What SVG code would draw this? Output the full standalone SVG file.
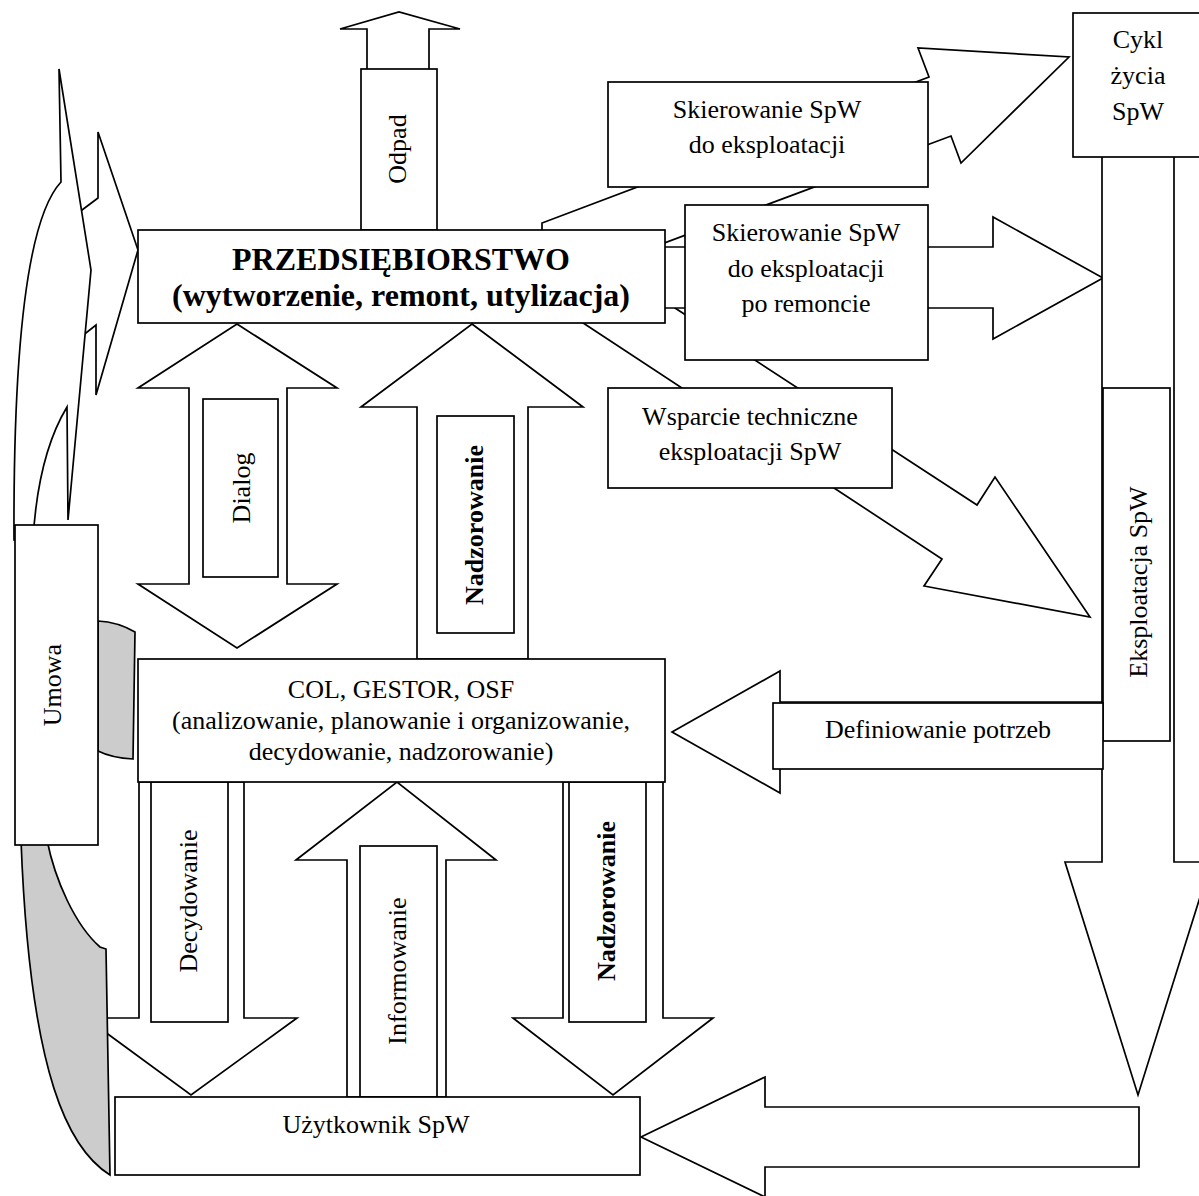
<svg xmlns="http://www.w3.org/2000/svg" width="1199" height="1196" viewBox="0 0 1199 1196">
  <style>
    .sh { fill: #ffffff; stroke: #000000; stroke-width: 1.7; stroke-linejoin: miter; }
    .gr { fill: #cccccc; stroke: #000000; stroke-width: 1.7; }
    .t { font-family: "Liberation Serif", "Times New Roman", serif; font-size: 26px; fill: #000000; text-anchor: middle; }
    .b { font-weight: bold; }
    .big { font-size: 32px; font-weight: bold; }
  </style>
  <rect x="0" y="0" width="1199" height="1196" fill="#ffffff"/>

  <!-- block arrows between the nodes -->
  <g id="connectors">
    <!-- curved arrows coming up from the contract -->
    <polygon class="sh" points="70,219 98,198 98,132 138,250 96,395 96,325 72,344"/>
    <path class="sh" d="M33,540 Q38,455 67,407 L68,520 L91,270 L59,69 L61,182 C35,210 13,300 14,540 Z"/>
    <!-- technical support arrow -->
    <polygon class="sh" points="571,315 942,559 924,586 1090,617 995,477 977,505 655,295"/>
    <!-- after-repair arrow -->
    <polygon class="sh" points="660,247 993,247 993,217 1103,278 993,339 993,308 660,308"/>
    <!-- dispatch arrow to life cycle -->
    <polygon class="sh" points="542,234 542,223 929,77 918,48 1069,57 961,163 951,136 640,252"/>
    <!-- life cycle down arrow -->
    <polygon class="sh" points="1102,150 1102,862 1065,862 1138,1095 1211,862 1174,862 1174,150"/>
    <!-- needs definition arrow -->
    <polygon class="sh" points="1102,702 780,702 780,671 672,732 780,793 780,762 1102,762"/>
    <!-- arrow into the user -->
    <polygon class="sh" points="1139,1107 765,1107 765,1077 641,1137 765,1197 765,1167 1139,1167"/>
    <!-- waste -->
    <polygon class="sh" points="367,82 367,29 340,29 399,12 460,29 429,29 429,82"/>
    <!-- dialog (two-way) -->
    <polygon class="sh" points="237,324 337,388 287,388 287,584 337,584 237,648 138,584 189,584 189,388 138,388"/>
    <!-- supervision up -->
    <polygon class="sh" points="472,324 583,407 528,407 528,659 417,659 417,407 361,407"/>
    <!-- deciding down -->
    <polygon class="sh" points="139,782 139,1018 86,1018 191,1095 297,1018 244,1018 244,782"/>
    <!-- informing up -->
    <polygon class="sh" points="347,1097 347,860 296,860 397,782 496,860 446,860 446,1097"/>
    <!-- supervision down -->
    <polygon class="sh" points="563,782 563,1018 513,1018 613,1095 713,1018 663,1018 663,782"/>
  </g>

  <!-- arrow labels -->
  <g id="label-odpad">
    <rect class="sh" x="361" y="69" width="76" height="161"/>
    <text class="t" transform="translate(406,149) rotate(-90)">Odpad</text>
  </g>
  <g id="label-dialog">
    <rect class="sh" x="203" y="399" width="75" height="178"/>
    <text class="t" transform="translate(250,488) rotate(-90)">Dialog</text>
  </g>
  <g id="label-nadzorowanie-up">
    <rect class="sh" x="437" y="416" width="77" height="217"/>
    <text class="t b" transform="translate(483,525) rotate(-90)">Nadzorowanie</text>
  </g>
  <g id="label-decydowanie">
    <rect class="sh" x="151" y="782" width="77" height="240"/>
    <text class="t" transform="translate(197,901) rotate(-90)">Decydowanie</text>
  </g>
  <g id="label-informowanie">
    <rect class="sh" x="360" y="846" width="77" height="251"/>
    <text class="t" transform="translate(406,971) rotate(-90)">Informowanie</text>
  </g>
  <g id="label-nadzorowanie-down">
    <rect class="sh" x="569" y="782" width="77" height="240"/>
    <text class="t b" transform="translate(615,901) rotate(-90)">Nadzorowanie</text>
  </g>
  <g id="label-eksploatacja">
    <rect class="sh" x="1103" y="388" width="67" height="353"/>
    <text class="t" transform="translate(1147,582) rotate(-90)">Eksploatacja SpW</text>
  </g>
  <g id="label-definiowanie">
    <rect class="sh" x="773" y="703" width="330" height="66"/>
    <text class="t" x="938" y="738">Definiowanie potrzeb</text>
  </g>

  <!-- nodes -->
  <g id="umowa">
    <path class="gr" d="M98,621 Q118,622 135,632 L133,759 Q112,758 98,751 Z"/>
    <path class="gr" d="M47,840 C55,880 75,925 100,947 L106,949 L110,1175 C70,1150 30,1080 21,840 Z"/>
    <rect class="sh" x="15" y="525" width="83" height="320"/>
    <text class="t" transform="translate(61,685) rotate(-90)">Umowa</text>
  </g>
  <g id="przedsiebiorstwo">
    <rect class="sh" x="138" y="230" width="527" height="93"/>
    <text class="t big" x="401" y="270">PRZEDSIĘBIORSTWO</text>
    <text class="t big" x="401" y="306">(wytworzenie, remont, utylizacja)</text>
  </g>
  <g id="skierowanie">
    <rect class="sh" x="608" y="82" width="320" height="105"/>
    <text class="t" x="767" y="118">Skierowanie SpW</text>
    <text class="t" x="767" y="153">do eksploatacji</text>
  </g>
  <g id="skierowanie-po-remoncie">
    <rect class="sh" x="685" y="205" width="243" height="155"/>
    <text class="t" x="806" y="241">Skierowanie SpW</text>
    <text class="t" x="806" y="277">do eksploatacji</text>
    <text class="t" x="806" y="312">po remoncie</text>
  </g>
  <g id="wsparcie">
    <rect class="sh" x="608" y="388" width="284" height="100"/>
    <text class="t" x="750" y="425">Wsparcie techniczne</text>
    <text class="t" x="750" y="460">eksploatacji SpW</text>
  </g>
  <g id="cykl-zycia">
    <rect class="sh" x="1073" y="13" width="140" height="144"/>
    <text class="t" x="1138" y="48">Cykl</text>
    <text class="t" x="1138" y="84">życia</text>
    <text class="t" x="1138" y="120">SpW</text>
  </g>
  <g id="col-gestor-osf">
    <rect class="sh" x="138" y="659" width="527" height="123"/>
    <text class="t" x="401" y="698">COL, GESTOR, OSF</text>
    <text class="t" x="401" y="729">(analizowanie, planowanie i organizowanie,</text>
    <text class="t" x="401" y="760">decydowanie, nadzorowanie)</text>
  </g>
  <g id="uzytkownik">
    <rect class="sh" x="115" y="1097" width="525" height="78"/>
    <text class="t" x="376" y="1133">Użytkownik SpW</text>
  </g>
</svg>
